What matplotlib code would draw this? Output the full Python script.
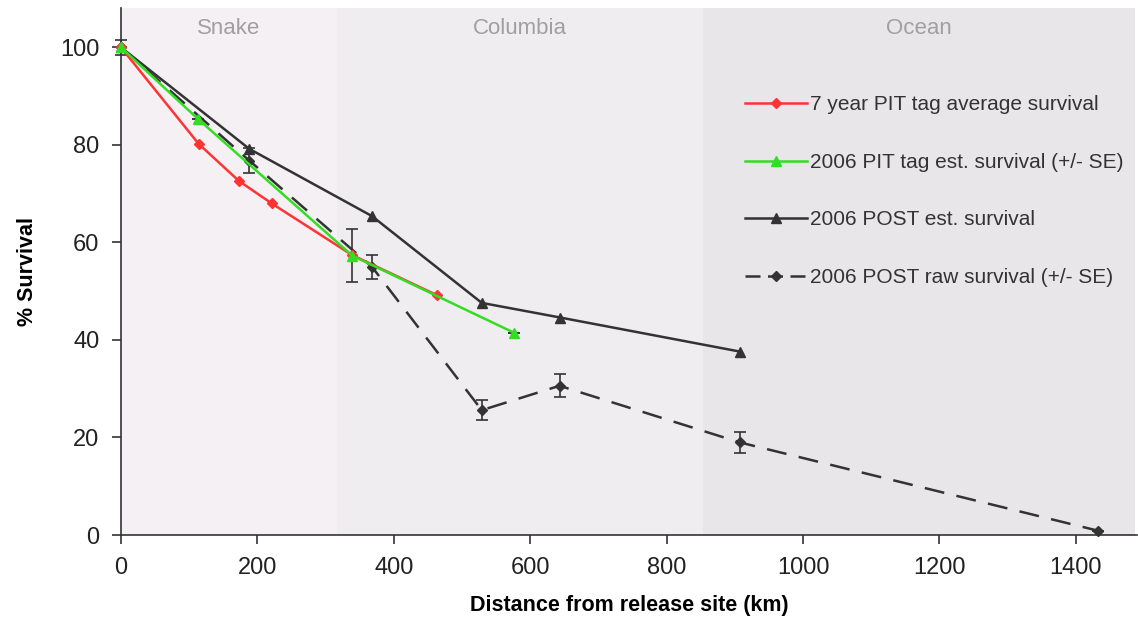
import matplotlib
matplotlib.use("Agg")
import matplotlib.pyplot as plt
from matplotlib.lines import Line2D

plt.rcParams['font.family'] = ['Liberation Sans', 'DejaVu Sans']

# Data
regions = ["Snake", "Columbia", "Ocean"]
region_edges = [0, 317, 854, 1487]
region_colors = ["#f4f0f4", "#efedf0", "#e9e6ea"]

pit7_x = [0, 114, 173, 221, 339, 463]
pit7_y = [100, 80.2, 72.6, 68.0, 57.4, 49.2]

pit06_x = [0, 113, 339, 576]
pit06_y = [100, 85.3, 57.3, 41.5]
pit06_err = [0, 0, 5.4, 0]

post_est_x = [0, 188, 368, 529, 644, 908]
post_est_y = [100, 79.2, 65.4, 47.6, 44.6, 37.6]

post_raw_x = [0, 188, 368, 529, 643, 907, 1432]
post_raw_y = [100, 76.8, 55.0, 25.6, 30.6, 19.0, 0.9]
post_raw_err = [1.5, 2.5, 2.4, 2.1, 2.4, 2.1, 0]

labels = ["7 year PIT tag average survival",
          "2006 PIT tag est. survival (+/- SE)",
          "2006 POST est. survival",
          "2006 POST raw survival (+/- SE)"]

xticks = [0, 200, 400, 600, 800, 1000, 1200, 1400]
yticks = [0, 20, 40, 60, 80, 100]

fig = plt.figure(figsize=(11.38, 6.33), dpi=100)
ax = fig.add_axes([0.1063, 0.1548, 0.893, 0.832])

for i, name in enumerate(regions):
    ax.axvspan(region_edges[i], region_edges[i + 1], color=region_colors[i], lw=0, zorder=0)
    ax.text((region_edges[i] + region_edges[i + 1]) / 2, 103.9, name,
            ha='center', va='center', fontsize=16, color='#a0a0a0')

dark = '#333333'
lw = 1.8
dash = (0, (8, 5))

# raw dashed
ax.errorbar(post_raw_x, post_raw_y, yerr=post_raw_err, color=dark, lw=lw,
            ls=dash, marker='D', ms=5, ecolor=dark, elinewidth=1.2,
            capsize=4.5, capthick=1.2, clip_on=False, zorder=3)
# POST est
l3, = ax.plot(post_est_x, post_est_y, color=dark, lw=lw, marker='^', ms=7,
              clip_on=False, zorder=4, label=labels[2])
# 7 year red
l1, = ax.plot(pit7_x, pit7_y, color='#ff3333', lw=lw, marker='D', ms=5,
              clip_on=False, zorder=5, label=labels[0])
# 2006 PIT green
ax.errorbar(pit06_x, pit06_y, yerr=pit06_err, fmt='none', ecolor=dark,
            elinewidth=1.2, capsize=4.5, capthick=1.2, zorder=3)
l2, = ax.plot(pit06_x, pit06_y, color='#33dd22', lw=lw, marker='^', ms=7,
              clip_on=False, zorder=6, label=labels[1])
l4 = Line2D([], [], color=dark, lw=lw, ls=(0, (6, 3)), marker='D', ms=5)

ax.set_xlim(0, 1490)
ax.set_ylim(0, 108)
ax.set_xticks(xticks)
ax.set_yticks(yticks)
for s in ['top', 'right']:
    ax.spines[s].set_visible(False)
for s in ['left', 'bottom']:
    ax.spines[s].set_color(dark)
    ax.spines[s].set_linewidth(1.2)
ax.tick_params(direction='out', length=6.5, width=1.2, color=dark,
               labelsize=17, labelcolor='#222222', pad=9)

ax.set_xlabel("Distance from release site (km)", fontsize=15.5, fontweight='bold', labelpad=12)
ax.set_ylabel("% Survival", fontsize=15.5, fontweight='bold', labelpad=16)

leg = ax.legend(handles=[l1, l2, l3, l4], labels=labels,
                loc='upper left', bbox_to_anchor=(0.614, 0.835),
                frameon=False, fontsize=15, handlelength=3.0, handletextpad=0.1,
                labelspacing=1.85, borderaxespad=0, borderpad=0)
for t in leg.get_texts():
    t.set_color('#333333')

fig.savefig("out.png", dpi=100)
